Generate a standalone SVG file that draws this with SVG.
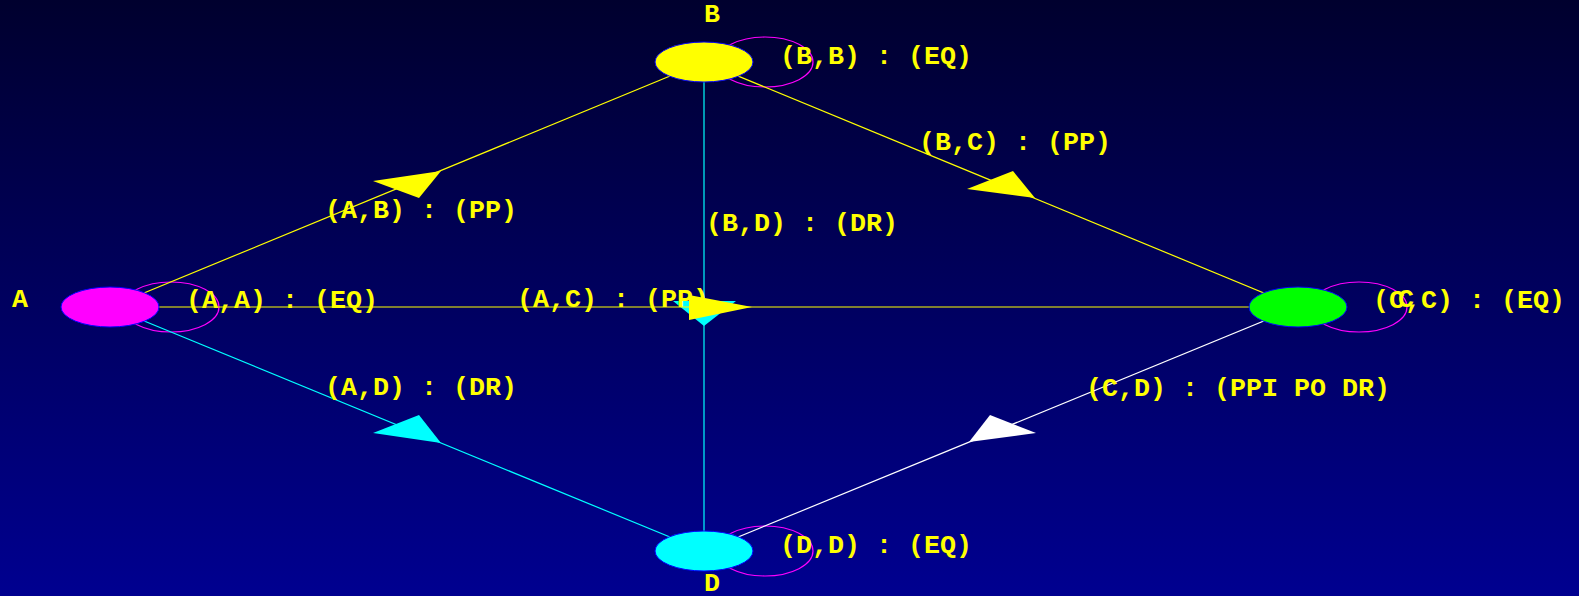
<svg xmlns="http://www.w3.org/2000/svg" width="1579" height="596" viewBox="0 0 1579 596">
<defs>
<linearGradient id="bg" x1="0" y1="0" x2="0" y2="1">
<stop offset="0" stop-color="#00002e"/>
<stop offset="1" stop-color="#000090"/>
</linearGradient>
<style>
text{font-family:"Courier New","Liberation Mono",monospace;font-weight:bold;font-size:26.67px;fill:#ffff00;white-space:pre}
.loop{fill:none;stroke:#ff00ff;stroke-width:1.2}
.node{stroke:#0000ff;stroke-width:1}
.edge{stroke-width:1.2;fill:none}
</style>
</defs>
<rect x="0" y="0" width="1579" height="596" fill="url(#bg)"/>
<g id="loops">
<ellipse class="loop" cx="171" cy="307" rx="48" ry="25"/>
<ellipse class="loop" cx="765" cy="62" rx="48" ry="25"/>
<ellipse class="loop" cx="1359" cy="307" rx="48" ry="25"/>
<ellipse class="loop" cx="765" cy="551" rx="48" ry="25"/>
</g>
<g id="connectors">
<line class="edge" x1="110" y1="307" x2="704" y2="62" stroke="#ffff00"/>
<text x="325" y="218">(A,B) : (PP)</text>
<polygon points="441,171 373,181 419,198" fill="#ffff00"/>
<line class="edge" x1="704" y1="62" x2="1298" y2="307" stroke="#ffff00"/>
<text x="919" y="150">(B,C) : (PP)</text>
<polygon points="1035,198 967,189 1013,171" fill="#ffff00"/>
<line class="edge" x1="110" y1="307" x2="704" y2="551" stroke="#00ffff"/>
<text x="325" y="395">(A,D) : (DR)</text>
<polygon points="441,443 373,433 419,415" fill="#00ffff"/>
<line class="edge" x1="1298" y1="307" x2="704" y2="551" stroke="#ffffff"/>
<text x="1086" y="396">(C,D) : (PPI PO DR)</text>
<polygon points="969,442 990,415 1036,433" fill="#ffffff"/>
<line class="edge" x1="704" y1="62" x2="704" y2="551" stroke="#00ffff"/>
<text x="706" y="231">(B,D) : (DR)</text>
<polygon points="704,326 673,301 736,301" fill="#00ffff"/>
<line class="edge" x1="110" y1="307" x2="1298" y2="307" stroke="#ffff00"/>
<text x="517" y="307">(A,C) : (PP)</text>
<polygon points="752,307 689,295 689,320" fill="#ffff00"/>
</g>
<g id="node-A">
<ellipse class="node" cx="110" cy="307" rx="49" ry="20" fill="#ff00ff"/>
<text x="12" y="307">A</text>
<text x="186" y="308">(A,A) : (EQ)</text>
</g>
<g id="node-B">
<ellipse class="node" cx="704" cy="62" rx="49" ry="20" fill="#ffff00"/>
<text x="704" y="22">B</text>
<text x="780" y="64">(B,B) : (EQ)</text>
</g>
<g id="node-C">
<ellipse class="node" cx="1298" cy="307" rx="49" ry="20" fill="#00ff00"/>
<text x="1373" y="308">(C,C) : (EQ)</text>
<text x="1398" y="307">C</text>
</g>
<g id="node-D">
<ellipse class="node" cx="704" cy="551" rx="49" ry="20" fill="#00ffff"/>
<text x="704" y="591">D</text>
<text x="780" y="553">(D,D) : (EQ)</text>
</g>
</svg>
